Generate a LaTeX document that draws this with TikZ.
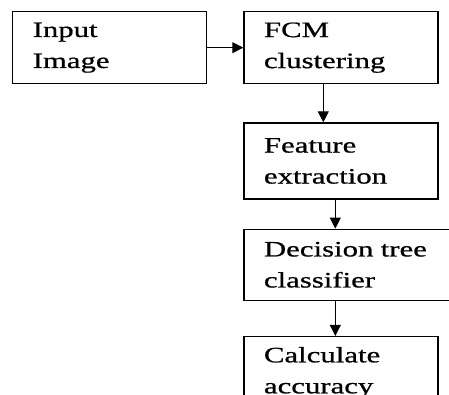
\documentclass[tikz,border=0pt]{standalone}
\usepackage{fontspec}
\setmainfont[FakeStretch=1.4,FakeBold=0.8]{Liberation Serif}
\usetikzlibrary{arrows.meta,positioning}
\tikzset{
  blk/.style={draw, line width=1.3pt, align=left, font=\fontsize{22}{31}\selectfont,
              minimum height=72pt, inner xsep=20pt, inner ysep=0pt, text width=#1},
  blk/.default=154pt,
  arr/.style={-{Triangle[length=11pt,width=11pt]}, line width=1pt},
}
\begin{document}
\begin{tikzpicture}[node distance=38pt and 36pt]
\useasboundingbox (0,0) rectangle (449pt,-394pt);
\clip (0,0) rectangle (449pt,-394pt);
\node[blk, anchor=north west] (inp) at (12pt,-11pt) {Input\\Image};
\node[blk, right=of inp] (fcm) {FCM\\clustering};
\node[blk, below=of fcm, minimum height=76pt] (feat) {Feature\\extraction};
\node[blk=168pt, anchor=north west, minimum height=71pt] (dtc) at ([yshift=-29pt]feat.south west) {Decision tree\\classifier};
\node[blk, anchor=north west] (acc) at ([yshift=-35pt]dtc.south west) {Calculate\\accuracy};
\draw[arr] (inp) -- (fcm);
\draw[arr] ([xshift=80pt]fcm.south west) -- ([xshift=80pt]feat.north west);
\draw[arr] ([xshift=92pt]feat.south west) -- ([xshift=92pt]dtc.north west);
\draw[arr] ([xshift=92pt]dtc.south west) -- ([xshift=92pt]acc.north west);
\end{tikzpicture}
\end{document}
